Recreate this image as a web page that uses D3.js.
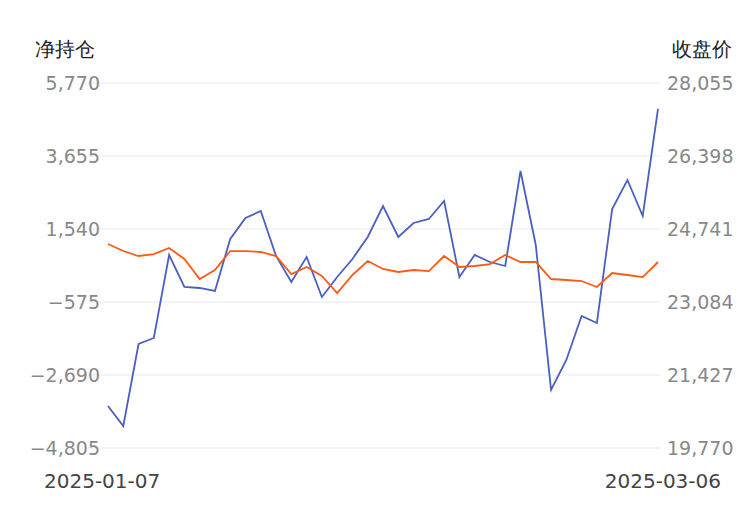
<!DOCTYPE html>
<html><head><meta charset="utf-8">
<script src="https://cdn.jsdelivr.net/npm/d3@7"></script>
<style>body{margin:0;background:#fff}text{font-family:"DejaVu Sans",sans-serif}</style>
</head><body><svg id="c" width="750" height="510"></svg>
<script>
const dateLabels=["2025-01-07","2025-03-06"];
const netPos=[-3587,-4167,-1791,-1617,787,-140,-169,-256,1251,1859,2062,758,5,729,-430,150,671,1309,2207,1309,1714,1830,2352,150,787,584,468,3221,1077,-3124,-2255,-980,-1183,2120,2960,1917,5017];
const closePrice=[24400,24241,24128,24173,24309,24060,23606,23810,24241,24241,24219,24128,23719,23878,23674,23288,23697,24014,23833,23765,23810,23787,24128,23878,23901,23946,24151,23992,23992,23606,23583,23560,23424,23742,23697,23651,23992];
const leftTicks=[5770,3655,1540,-575,-2690,-4805];
const rightTicks=[28055,26398,24741,23084,21427,19770];
const svg=d3.select("#c");
const x=d3.scaleLinear().domain([0,netPos.length-1]).range([108,658]);
const yl=d3.scaleLinear().domain([-4805,5770]).range([448,83]);
const yr=d3.scaleLinear().domain([19770,28055]).range([448,83]);
const fmt=d3.format(",");
svg.append("g").selectAll("line").data(leftTicks).join("line")
 .attr("x1",88).attr("x2",660).attr("y1",d=>yl(d)).attr("y2",d=>yl(d)).attr("stroke","#e6e9f0");
svg.append("g").selectAll("text").data(leftTicks).join("text")
 .attr("x",100).attr("y",d=>yl(d)+7).attr("text-anchor","end").attr("font-size",19).attr("fill","#888").text(d=>fmt(d));
svg.append("g").selectAll("text").data(rightTicks).join("text")
 .attr("x",667).attr("y",d=>yr(d)+7).attr("font-size",19).attr("fill","#888").text(d=>fmt(d));
svg.append("text").attr("x",35).attr("y",56).attr("font-size",20).attr("fill","#222").text("净持仓");
svg.append("text").attr("x",732).attr("y",56).attr("text-anchor","end").attr("font-size",20).attr("fill","#222").text("收盘价");
svg.append("text").attr("x",44).attr("y",488).attr("font-size",20).attr("fill","#444").text(dateLabels[0]);
svg.append("text").attr("x",721).attr("y",488).attr("text-anchor","end").attr("font-size",20).attr("fill","#444").text(dateLabels[1]);
svg.append("path").datum(netPos).attr("fill","none").attr("stroke","#4a5fc1").attr("stroke-width",1.8)
 .attr("d",d3.line().x((d,i)=>x(i)).y(d=>yl(d)));
svg.append("path").datum(closePrice).attr("fill","none").attr("stroke","#ff5a14").attr("stroke-width",1.8)
 .attr("d",d3.line().x((d,i)=>x(i)).y(d=>yr(d)));
</script></body></html>
